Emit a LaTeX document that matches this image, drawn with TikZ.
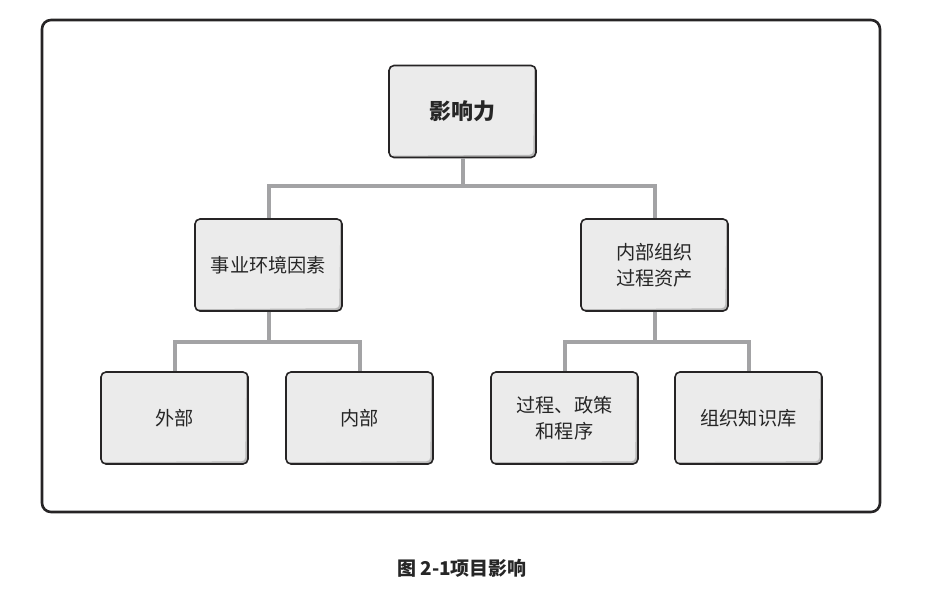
\documentclass[tikz,border=0pt]{standalone}
\usepackage{fontspec}
\setmainfont{Noto Sans CJK SC}
\usepackage{tikz}
\usetikzlibrary{calc}
\usepackage{xcolor}
\definecolor{boxfill}{HTML}{EBEBEB}
\definecolor{boxline}{HTML}{262425}
\definecolor{linkgray}{HTML}{A3A3A5}

\tikzset{
  box/.style={draw=boxline, line width=1.6pt, fill=boxfill, rounded corners=5pt,
    minimum width=147pt, minimum height=92pt, align=center, inner sep=0pt,
    font=\fontsize{19.2}{26}\selectfont, text=black!85,
    path picture={\draw[line width=3.5pt, gray!55]
      ([xshift=4pt]path picture bounding box.south west) --
      ([xshift=-1pt,yshift=1pt]path picture bounding box.south east) --
      ([yshift=-4pt]path picture bounding box.north east);}},
  link/.style={draw=linkgray, line width=4pt}
}

\begin{document}
\begin{tikzpicture}[x=1pt,y=-1pt]

		% Page and frame
		\useasboundingbox (0,0) rectangle (933,593);
		\draw[line width=2.6pt, boxline, rounded corners=9pt] (42,20) rectangle (880,512);

		% Boxes
		\node[box, font=\fontsize{22}{26}\selectfont\bfseries] (infl) at (462.5,111.5) {影响力};
		\node[box] (env) at (268.5,265) {事业环境因素};
		\node[box] (opa) at (654.5,265) {内部组织\\过程资产};
		\node[box] (ext) at (174.5,418) {外部};
		\node[box] (int) at (359.5,418) {内部};
		\node[box] (proc) at (564.5,418) {过程、政策\\和程序};
		\node[box] (kb) at (748.5,418) {组织知识库};

		% Links
		\draw[link] (infl.south) -- ++(0,28) -| (env.north);
		\draw[link] (infl.south) -- ++(0,28) -| (opa.north);
		\draw[link] (env.south) -- ++(0,30) -| (ext.north);
		\draw[link] (env.south) -- ++(0,30) -| (int.north);
		\draw[link] (opa.south) -- ++(0,30) -| (proc.north);
		\draw[link] (opa.south) -- ++(0,30) -| (kb.north);

		% Caption
		\node[font=\fontsize{19}{22}\selectfont\bfseries, text=black!85] (cap) at (462,568) {图 2-1项目影响};

	\end{tikzpicture}
\end{document}
